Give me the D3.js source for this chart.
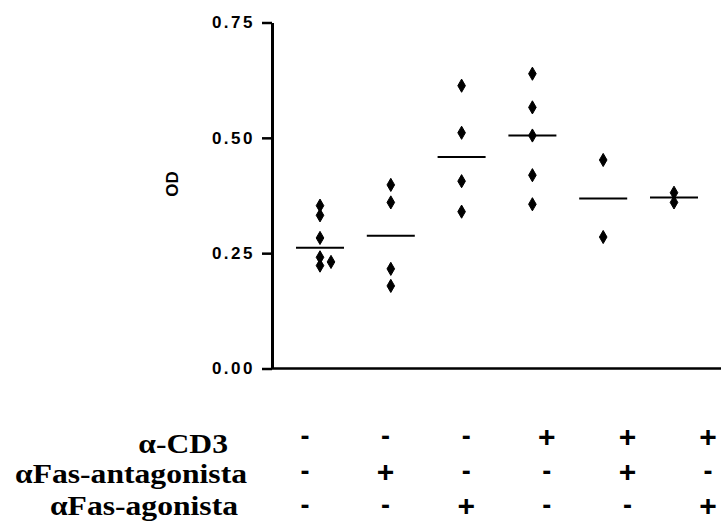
<!DOCTYPE html>
<html>
<head>
<meta charset="utf-8">
<script src="https://cdn.jsdelivr.net/npm/d3@7"></script>
<style>
  body { margin: 0; background: #fff; }
  svg { display: block; }
  text.rowlabel { font-family: 'Liberation Serif', 'Times New Roman', Times, 'DejaVu Serif', serif; font-weight: 700; }
  .sans { font-family: 'Liberation Sans', Arial, 'DejaVu Sans', sans-serif; }
</style>
</head>
<body>
<div id="chart"></div>
<script>
// OD readings per group
var groups = ['g1', 'g2', 'g3', 'g4', 'g5', 'g6'];
var g1 = [0.353, 0.332, 0.283, 0.241, 0.231, 0.223];
var g2 = [0.398, 0.360, 0.216, 0.179];
var g3 = [0.613, 0.511, 0.406, 0.340];
var g4 = [0.639, 0.566, 0.505, 0.419, 0.356];
var g5 = [0.452, 0.285];
var g6 = [0.381, 0.360];
var values = [g1, g2, g3, g4, g5, g6];

var y_ticks = [0, 0.25, 0.5, 0.75];

// treatment table under the plot
var row_labels = ['\u03b1-CD3', '\u03b1Fas-antagonista', '\u03b1Fas-agonista'];
var cd3 = ['-', '-', '-', '+', '+', '+'];
var antagonist = ['-', '+', '-', '-', '+', '-'];
var agonist = ['-', '-', '+', '-', '-', '+'];
var rows = [cd3, antagonist, agonist];

var chart_width = 721;
var chart_height = 524;

var svg = d3
  .select('#chart')
  .append('svg')
  .attr('width', chart_width)
  .attr('height', chart_height);

// scales
var x_scale = d3.scalePoint().domain(groups).range([320, 674]);
var y_scale = d3.scaleLinear().domain([0, 0.75]).range([368.5, 22.5]);

// y axis
var y_axis = d3
  .axisLeft(y_scale)
  .tickValues(y_ticks)
  .tickFormat(d3.format('.2f'))
  .tickSize(10)
  .tickSizeOuter(0);

var gy = svg
  .append('g')
  .attr('transform', 'translate(272,0)')
  .call(y_axis);
gy.attr('font-family', null).attr('font-size', null);
gy.select('.domain').attr('stroke-width', 3);
gy.selectAll('.tick line').attr('stroke-width', 2.5);
gy.selectAll('.tick text')
  .attr('class', 'sans')
  .attr('x', -17)
  .style('font-weight', 'bold')
  .style('font-size', '17px')
  .style('letter-spacing', '2.5px')
  .attr('fill', '#000');

// x axis line along 0
svg
  .append('line')
  .attr('x1', 272)
  .attr('x2', chart_width)
  .attr('y1', y_scale(0))
  .attr('y2', y_scale(0))
  .attr('stroke', '#000')
  .attr('stroke-width', 2.5);

// y label
svg
  .append('text')
  .attr('class', 'sans')
  .text('OD')
  .attr('transform', 'translate(178,184) rotate(-90)')
  .attr('text-anchor', 'middle')
  .style('font-weight', 'bold')
  .style('font-size', '17px');

// flatten points, nudge overlapping ones sideways
var points = [];
values.forEach(function(vals, i) {
  var placed = [];
  vals.slice().sort(d3.ascending).forEach(function(v) {
    var py = y_scale(v);
    var clash = placed.some(function(p) {
      return Math.abs(p - py) < 6;
    });
    if (!clash) placed.push(py);
    points.push({ g: groups[i], v: v, dx: clash ? 11 : 0 });
  });
});

svg
  .selectAll('path.dot')
  .data(points)
  .enter()
  .append('path')
  .attr('class', 'dot')
  .attr('d', d3.symbol().type(d3.symbolDiamond).size(50))
  .attr('transform', function(d) {
    return 'translate(' + (x_scale(d.g) + d.dx) + ',' + y_scale(d.v) + ')';
  })
  .attr('fill', '#000')
  .attr('stroke', '#000')
  .attr('stroke-width', 1)
  .attr('stroke-linejoin', 'round');

// median lines
svg
  .selectAll('line.median')
  .data(values)
  .enter()
  .append('line')
  .attr('class', 'median')
  .attr('x1', function(d, i) {
    return x_scale(groups[i]) - 24;
  })
  .attr('x2', function(d, i) {
    return x_scale(groups[i]) + 24;
  })
  .attr('y1', function(d) {
    return y_scale(d3.median(d));
  })
  .attr('y2', function(d) {
    return y_scale(d3.median(d));
  })
  .attr('stroke', '#000')
  .attr('stroke-width', 2);

// treatment table
var sign_x = d3.scalePoint().domain(groups).range([305, 708]);
var label_right = [228, 247, 238];
var label_base = [453, 483, 515];
var sign_mid = [437, 472, 506];

// the scanned labels are a bit wider than the font, so stretch them
svg
  .selectAll('text.rowlabel')
  .data(row_labels)
  .enter()
  .append('text')
  .attr('class', 'rowlabel')
  .text(function(d) {
    return d;
  })
  .attr('transform', function(d, i) {
    return 'translate(' + label_right[i] + ',' + label_base[i] + ') scale(1.13,1)';
  })
  .attr('text-anchor', 'end')
  .style('font-size', '28px');

rows.forEach(function(row, r) {
  svg
    .selectAll('text.sign' + r)
    .data(row)
    .enter()
    .append('text')
    .attr('class', 'sans sign' + r)
    .text(function(d) {
      return d;
    })
    .attr('x', function(d, i) {
      return sign_x(groups[i]);
    })
    .attr('y', sign_mid[r])
    .attr('dy', function(d) {
      return d === '+' ? '0.33em' : '0.3em';
    })
    .attr('text-anchor', 'middle')
    .style('font-weight', 'bold')
    .style('font-size', function(d) {
      return d === '+' ? '30px' : '27px';
    });
});
</script>
</body>
</html>
